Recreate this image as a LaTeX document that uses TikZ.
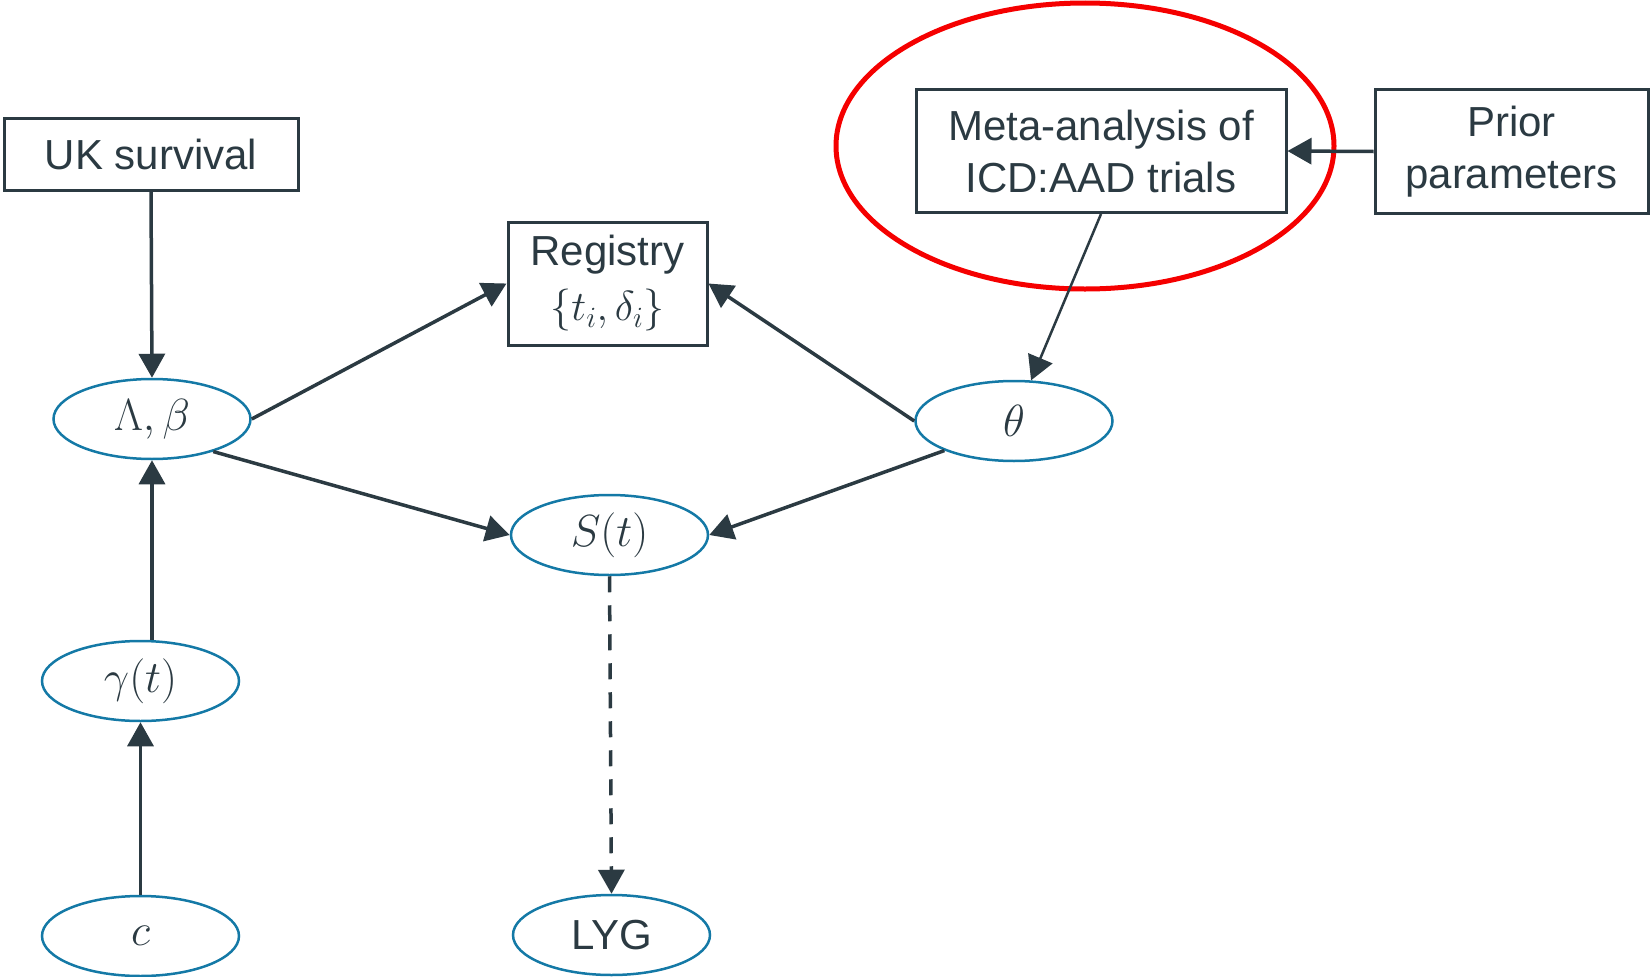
\RequirePackage{fix-cm}
\documentclass[tikz,border=0pt]{standalone}
\usepackage{fontspec}
\setmainfont{Liberation Sans}
\usetikzlibrary{arrows.meta,shapes.geometric}

\definecolor{inkc}{RGB}{43,58,66}
\definecolor{varc}{RGB}{20,121,166}
\definecolor{ringc}{RGB}{245,0,0}

\tikzset{
    every node/.style={font=\fontsize{42}{52}\selectfont, text=inkc, inner sep=0pt},
    box/.style={draw=inkc, line width=3pt, align=center},
    var/.style={ellipse, draw=varc, line width=2.5pt, minimum width=197pt, minimum height=80pt,
        font=\fontsize{45}{52}\selectfont},
    link/.style={draw=inkc, line width=3.5pt, -{Triangle[length=24pt,width=26pt]}},
}

\begin{document}
\begin{tikzpicture}[x=1pt, y=-1pt]
                \useasboundingbox (0, 0) rectangle (1650, 977);

                % data and prior boxes
                \node[box, minimum width=294pt, minimum height=72pt] (uk) at (151, 154) {UK survival};
                \node[box, minimum width=199pt, minimum height=123pt] (reg) at (607.5, 283.5) {Registry\\[3pt]$\{t_i,\delta_i\}$};
                \node[box, minimum width=370pt, minimum height=123pt] (meta) at (1101, 151) {Meta-analysis of\\ICD:AAD trials};
                \node[box, minimum width=273pt, minimum height=124pt] (prior) at (1511.5, 151.5) {Prior\\parameters};

                % model quantities
                \node[var] (lam) at (152, 419) {$\Lambda,\beta$};
                \node[var] (th) at (1014, 421) {$\theta$};
                \node[var] (st) at (609.5, 535) {$S(t)$};
                \node[var] (gam) at (140.5, 681) {$\gamma(t)$};
                \node[var] (cc) at (140.5, 936) {$c$};
                \node[var, font=\fontsize{42}{52}\selectfont] (lyg) at (611.5, 935) {LYG};

                % highlight round the meta-analysis
                \draw[ringc, line width=5pt] (1085, 146) ellipse [x radius=249pt, y radius=143pt];

                \draw[link] (uk.south) -- (lam.north);
                \draw[link] (gam.north -| lam.south) -- (lam.south);
                \draw[link] (cc.north) -- (gam.south);
                \draw[link] (lam.east) -- (reg.west);
                \draw[link] (lam.-28) -- (st.west);
                \draw[link] (th.west) -- (reg.east);
                \draw[link] (th.-157) -- (st.east);
                \draw[link, line width=2.5pt] (meta.south) -- (th);
                \draw[link] (prior.west) -- (meta.east);
                \draw[link, dash pattern=on 16pt off 13pt] (st.south) -- (lyg.north);
            \end{tikzpicture}
\end{document}
